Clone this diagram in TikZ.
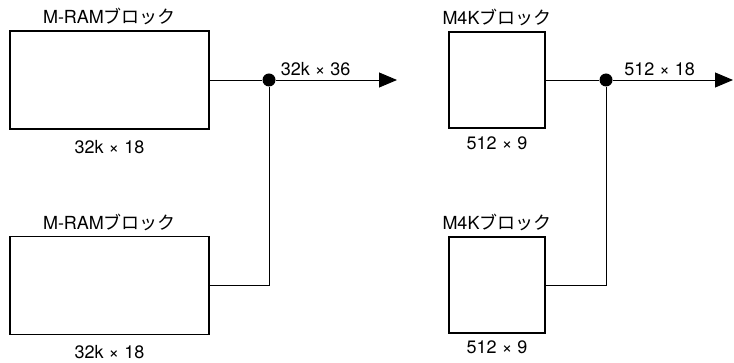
\documentclass[tikz,border=0pt]{standalone}
\usepackage{fontspec}
\setmainfont{TeX Gyre Heros}
\newfontfamily\cjk{Noto Sans CJK JP}
\usetikzlibrary{arrows.meta}

\begin{document}
\begin{tikzpicture}[x=1pt, y=-1pt,
        blk/.style={rectangle, draw, line width=1.1pt, inner sep=0pt},
        mram/.style={blk, minimum width=199pt, minimum height=98pt},
        mfk/.style={blk, minimum width=96pt, minimum height=96pt},
        txt/.style={font=\fontsize{18}{21}\selectfont},
        wire/.style={line width=0.9pt},
        bus/.style={wire, -{Triangle[length=18pt, width=15pt]}},
        junction/.style={circle, fill, inner sep=0pt, minimum size=13pt}
    ]
        \useasboundingbox (0,0) rectangle (734,363);

        % M-RAM pair
        \node[mram, label={[txt, label distance=2pt]above:M-RAM{\cjk ブロック}},
              label={[txt, label distance=7pt]below:32k × 18}] (ram1) at (109.5,80) {};
        \node[mram, label={[txt, label distance=2pt]above:M-RAM{\cjk ブロック}},
              label={[txt, label distance=7pt]below:32k × 18}] (ram2) at (109.5,285.5) {};
        \node[junction] (j1) at (269,80) {};
        \coordinate (o1) at (397,80);

        \draw[wire] (ram1.east) -- (j1);
        \draw[wire] (ram2.east) -| (j1);
        \draw[bus] (j1) -- node[txt, above, pos=0.33]{32k × 36} (o1);

        % M4K pair
        \node[mfk, label={[txt, label distance=2pt]above:M4K{\cjk ブロック}},
              label={[txt, label distance=5pt]below:512 × 9}] (fk1) at (497,80) {};
        \node[mfk, label={[txt, label distance=2pt]above:M4K{\cjk ブロック}},
              label={[txt, label distance=4pt]below:512 × 9}] (fk2) at (497,285) {};
        \node[junction] (j2) at (606,80) {};
        \coordinate (o2) at (733,80);

        \draw[wire] (fk1.east) -- (j2);
        \draw[wire] (fk2.east) -| (j2);
        \draw[bus] (j2) -- node[txt, above, pos=0.39]{512 × 18} (o2);
    \end{tikzpicture}
\end{document}
